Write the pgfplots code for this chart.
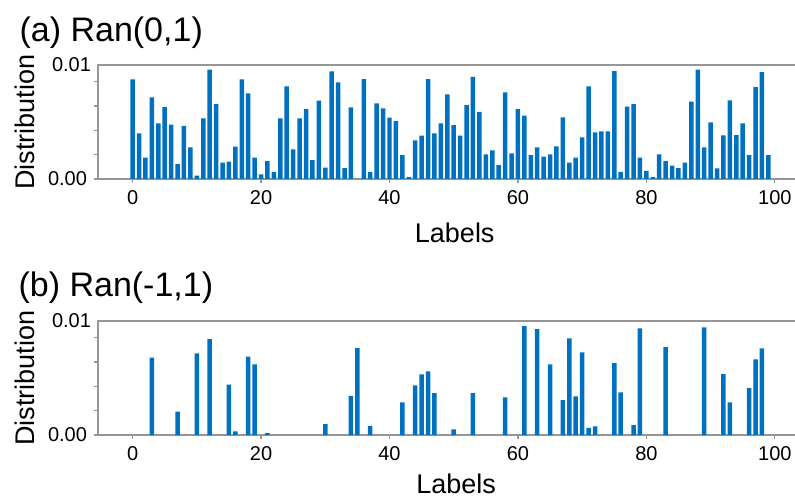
\documentclass[border=0pt]{standalone}
\usepackage{pgfplots}
\pgfplotsset{compat=1.18}
\usepackage{pgfplotstable}
\usepackage{fontspec}
\setmainfont{Liberation Sans}

\definecolor{barblue}{RGB}{0,112,192}
\definecolor{axgray}{RGB}{150,150,150}

% (a) Ran(0,1)
\pgfplotstableread{
x y
0 0.00819
1 0.00375
2 0.00175
3 0.00671
4 0.00458
5 0.00592
6 0.00447
7 0.00123
8 0.00438
9 0.00260
10 0.00027
11 0.00499
12 0.00899
13 0.00617
14 0.00134
15 0.00142
16 0.00266
17 0.00819
18 0.00704
19 0.00175
20 0.00038
21 0.00148
22 0.00058
23 0.00499
24 0.00762
25 0.00244
26 0.00499
27 0.00575
28 0.00156
29 0.00644
30 0.00093
31 0.00885
32 0.00795
33 0.00090
34 0.00589
35 0.00000
36 0.00822
37 0.00058
38 0.00622
39 0.00581
40 0.00504
41 0.00477
42 0.00197
43 0.00016
44 0.00318
45 0.00356
46 0.00822
47 0.00375
48 0.00458
49 0.00696
50 0.00444
51 0.00356
52 0.00608
53 0.00841
54 0.00553
55 0.00203
56 0.00236
57 0.00115
58 0.00712
59 0.00211
60 0.00575
61 0.00521
62 0.00197
63 0.00260
64 0.00184
65 0.00203
66 0.00269
67 0.00507
68 0.00134
69 0.00175
70 0.00342
71 0.00762
72 0.00384
73 0.00392
74 0.00392
75 0.00888
76 0.00058
77 0.00595
78 0.00617
79 0.00175
80 0.00066
81 0.00016
82 0.00203
83 0.00148
84 0.00110
85 0.00090
86 0.00134
87 0.00636
88 0.00899
89 0.00260
90 0.00466
91 0.00088
92 0.00359
93 0.00647
94 0.00362
95 0.00458
96 0.00197
97 0.00756
98 0.00880
99 0.00197
}\ranA

% (b) Ran(-1,1), labels that are not listed have distribution 0
\pgfplotstableread{
x y
3 0.00636
7 0.00192
10 0.00671
12 0.00789
15 0.00414
16 0.00030
18 0.00644
19 0.00581
21 0.00016
30 0.00090
34 0.00323
35 0.00715
37 0.00074
42 0.00269
44 0.00408
45 0.00499
46 0.00523
47 0.00345
50 0.00047
53 0.00345
58 0.00310
61 0.00896
63 0.00871
65 0.00581
67 0.00288
68 0.00795
69 0.00318
70 0.00680
71 0.00058
72 0.00071
75 0.00592
76 0.00351
78 0.00082
79 0.00877
83 0.00723
89 0.00885
92 0.00501
93 0.00269
96 0.00386
97 0.00622
98 0.00712
}\ranB

\pgfplotsset{
  panel/.style={
    scale only axis,
    width=352.5pt, height=57pt,
    xmin=-5.39, xmax=104.39,
    ymin=0, ymax=0.00938,
    axis line style={axgray, line width=0.6pt},
    tick align=outside,
    major tick length=2pt,
    tick style={axgray, line width=0.6pt},
    xtick pos=bottom, ytick pos=left,
    xtick={0,20,...,100},
    ytick={0,0.002,0.004,0.006,0.008},
    yticklabels={0.00,,,,},
    scaled y ticks=false,
    extra y ticks={0.00938},
    extra y tick labels={0.01},
    extra y tick style={major tick length=0pt},
    /pgf/number format/assume math mode=true,
    ticklabel style={font=\fontsize{10}{12}\selectfont, text=black},
    label style={font=\fontsize{13.5}{16}\selectfont},
    ylabel={Distribution},
    xlabel={Labels},
    ylabel style={at={(axis description cs:-0.1033,0.5)}, anchor=center},
    ybar, bar width=0.7,
  },
}

\begin{document}
\begin{tikzpicture}
  \begin{axis}[panel, at={(49pt,159pt)},
      xlabel style={at={(axis description cs:0.506,-0.5588)}, anchor=base}]
    \addplot[fill=barblue, draw=none] table[x=x, y=y] {\ranA};
  \end{axis}
  \begin{axis}[panel, at={(49pt,31pt)},
      xlabel style={at={(axis description cs:0.508,-0.511)}, anchor=base}]
    \addplot[fill=barblue, draw=none] table[x=x, y=y] {\ranB};
  \end{axis}

  \node[anchor=base west, inner sep=0pt, font=\fontsize{17}{20}\selectfont]
    at (9.6pt,227.6pt) {(a) Ran(0,1)};
  \node[anchor=base west, inner sep=0pt, font=\fontsize{17}{20}\selectfont]
    at (9.1pt,100.1pt) {(b) Ran(-1,1)};

  \pgfresetboundingbox
  \path[use as bounding box] (0,0) rectangle (397.5pt,248.5pt);
\end{tikzpicture}
\end{document}
